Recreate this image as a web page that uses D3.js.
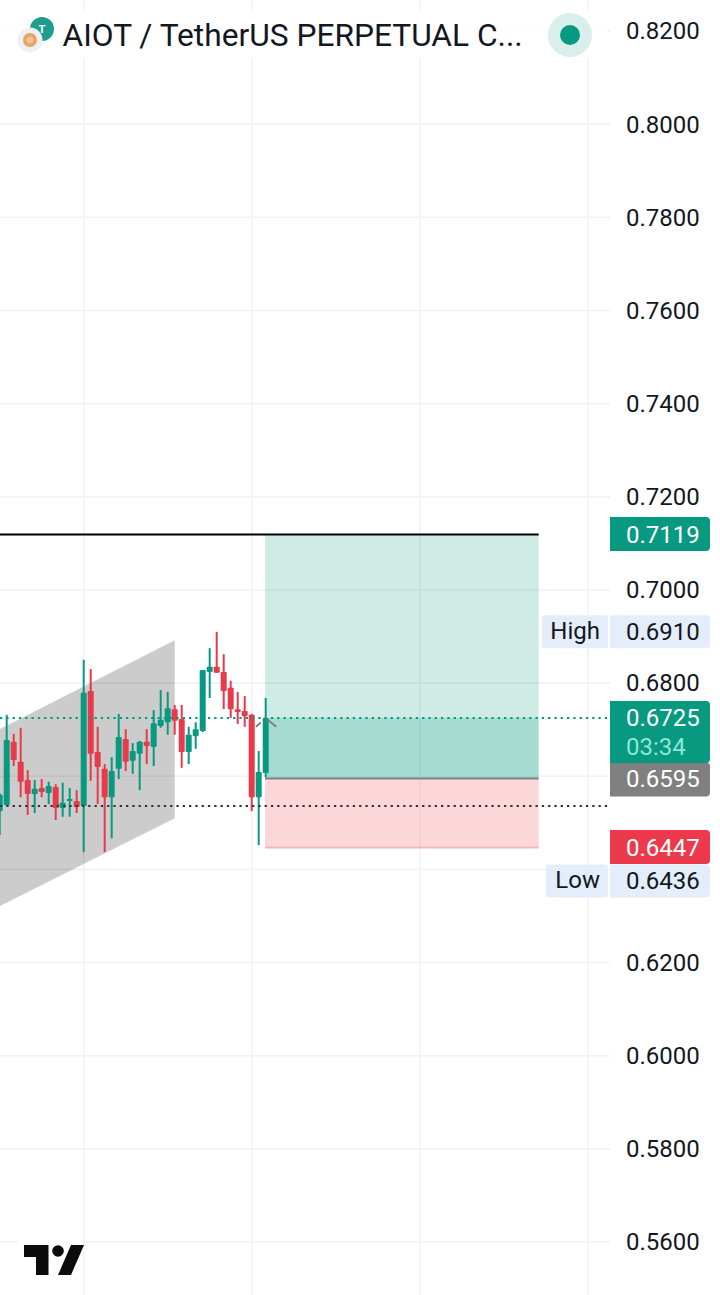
<!DOCTYPE html>
<html>
<head>
<meta charset="utf-8">
<title>AIOT / TetherUS PERPETUAL</title>
<script src="https://cdn.jsdelivr.net/npm/d3@7"></script>
<style>
  html, body { margin: 0; padding: 0; background: #fff; }
  svg { display: block; }
  text { font-family: Roboto, sans-serif; }
</style>
</head>
<body>
<script>
// Candles, left to right
var opens =  [0.6525,0.6538,0.6674,0.6631,0.6592,0.6562,0.6575,0.6564,0.6577,0.6532,0.6547,0.6547,0.6536,0.6783,0.6652,0.6616,0.6555,0.6616,0.6680,0.6633,0.6648,0.6674,0.6663,0.6708,0.6716,0.6744,0.6723,0.6652,0.6686,0.6697,0.6824,0.6835,0.6824,0.6790,0.6744,0.6740,0.6732,0.6555,0.6607];
var highs =  [0.6564,0.6732,0.6691,0.6704,0.6613,0.6592,0.6594,0.6588,0.6583,0.6586,0.6575,0.6570,0.6850,0.6830,0.6706,0.6626,0.6641,0.6734,0.6701,0.6671,0.6676,0.6701,0.6742,0.6785,0.6781,0.6753,0.6753,0.6706,0.6716,0.6828,0.6875,0.6910,0.6862,0.6805,0.6781,0.6772,0.6734,0.6654,0.6768];
var lows =   [0.6474,0.6536,0.6622,0.6555,0.6517,0.6521,0.6555,0.6540,0.6506,0.6513,0.6513,0.6521,0.6437,0.6590,0.6540,0.6437,0.6467,0.6594,0.6611,0.6605,0.6570,0.6626,0.6622,0.6704,0.6689,0.6689,0.6618,0.6626,0.6659,0.6695,0.6768,0.6822,0.6744,0.6725,0.6712,0.6706,0.6525,0.6452,0.6598];
var closes = [0.6560,0.6678,0.6635,0.6588,0.6562,0.6573,0.6566,0.6579,0.6532,0.6543,0.6551,0.6534,0.6779,0.6648,0.6620,0.6555,0.6611,0.6684,0.6631,0.6654,0.6674,0.6665,0.6714,0.6721,0.6746,0.6719,0.6652,0.6689,0.6701,0.6828,0.6835,0.6822,0.6783,0.6744,0.6738,0.6729,0.6555,0.6609,0.6725];

// Price axis and time grid
var priceTicks = [0.82,0.80,0.78,0.76,0.74,0.72,0.70,0.68,0.62,0.60,0.58,0.56];
var gridPrices = [0.82,0.80,0.78,0.76,0.74,0.72,0.70,0.68,0.66,0.64,0.62,0.60,0.58,0.56];
var gridBars = [12,36,60,84];

// Drawings: gray channel and long position
var channelBars =   [0,25,25,0];
var channelPrices = [0.6701,0.6892,0.6510,0.6321];
var positionBars = [38,77];
var targetPrice = 0.7119;
var entryPrice = 0.6595;
var stopPrice = 0.6447;
var lastPrice = 0.6725;
var prevClose = 0.6536;
var highPrice = 0.6910;
var lowPrice = 0.6436;
var arrowBars = [36.6,38,39.5];
var arrowPrices = [0.6706,0.6725,0.6706];

var GREEN = "#089981", RED = "#e63b4b";

var width = 720, height = 1295, axisLeft = 610;

var svg = d3.select("body").append("svg")
  .attr("width", width)
  .attr("height", height);

svg.append("rect").attr("width", width).attr("height", height).attr("fill", "#fff");

var x = d3.scaleLinear().domain([0,84]).range([-0.3,587.7]);
var y = d3.scaleLinear().domain([0.82,0.56]).range([31,1242]);

// Step 1: grid
svg.append("g").selectAll("line").data(gridPrices).join("line")
  .attr("x1",0).attr("x2",axisLeft)
  .attr("y1",function(d){ return y(d); }).attr("y2",function(d){ return y(d); })
  .attr("stroke","#f1f2f4").attr("stroke-width",1.6);

svg.append("g").selectAll("line").data(gridBars).join("line")
  .attr("x1",function(d){ return x(d); }).attr("x2",function(d){ return x(d); })
  .attr("y1",0).attr("y2",height)
  .attr("stroke","#f1f2f4").attr("stroke-width",1.6);

// Step 2: channel, sits under the candles
svg.append("polygon")
  .attr("points", channelBars.map(function(b,i){ return x(b)+","+y(channelPrices[i]); }).join(" "))
  .attr("fill","#000").attr("fill-opacity",0.2);

// Step 3: position tool
var pos = svg.append("g");
var boxX = x(positionBars[0]) - 0.7, boxW = x(positionBars[1]) - boxX;
pos.append("rect").attr("x",boxX).attr("width",boxW)
  .attr("y",y(targetPrice)).attr("height",y(entryPrice)-y(targetPrice))
  .attr("fill",GREEN).attr("fill-opacity",0.2);
pos.append("rect").attr("x",boxX).attr("width",boxW)
  .attr("y",y(lastPrice)).attr("height",y(entryPrice)-y(lastPrice))
  .attr("fill",GREEN).attr("fill-opacity",0.2);
pos.append("rect").attr("x",boxX).attr("width",boxW)
  .attr("y",y(entryPrice)).attr("height",y(stopPrice)-y(entryPrice))
  .attr("fill","#f23645").attr("fill-opacity",0.2);
pos.append("line").attr("x1",0).attr("x2",boxX+boxW)
  .attr("y1",y(targetPrice)).attr("y2",y(targetPrice))
  .attr("stroke","#000").attr("stroke-width",2);
pos.append("line").attr("x1",boxX).attr("x2",boxX+boxW)
  .attr("y1",y(entryPrice)).attr("y2",y(entryPrice))
  .attr("stroke","#808080").attr("stroke-width",2);
pos.append("line").attr("x1",boxX).attr("x2",boxX+boxW)
  .attr("y1",y(stopPrice)).attr("y2",y(stopPrice))
  .attr("stroke","#f2b8bd").attr("stroke-width",2);

// Step 4: candles
var candles = svg.append("g").selectAll("g").data(opens).join("g")
  .attr("fill",function(d,i){ return closes[i] >= opens[i] ? GREEN : RED; });

candles.append("rect")
  .attr("x",function(d,i){ return x(i)-1; })
  .attr("width",2)
  .attr("y",function(d,i){ return y(highs[i]); })
  .attr("height",function(d,i){ return y(lows[i])-y(highs[i]); });

candles.append("rect")
  .attr("x",function(d,i){ return x(i)-3; })
  .attr("width",6)
  .attr("y",function(d,i){ return y(Math.max(opens[i],closes[i])); })
  .attr("height",function(d,i){ return Math.abs(y(opens[i])-y(closes[i])); })
  .attr("rx",0.8);

// Step 5: chevron on the last candle
svg.append("path")
  .attr("d", d3.line().x(function(d){ return x(d); }).y(function(d,i){ return y(arrowPrices[i]); })(arrowBars))
  .attr("fill","none").attr("stroke","#808080").attr("stroke-width",2)
  .attr("stroke-dasharray","6.5 9 13");

// Step 6: last price and previous close dotted lines
svg.append("line").attr("x1",0).attr("x2",axisLeft)
  .attr("y1",y(lastPrice)).attr("y2",y(lastPrice))
  .attr("stroke",GREEN).attr("stroke-width",2).attr("stroke-dasharray","2.3 4");
svg.append("line").attr("x1",0).attr("x2",axisLeft)
  .attr("y1",y(prevClose)).attr("y2",y(prevClose))
  .attr("stroke","#333").attr("stroke-width",2).attr("stroke-dasharray","2.3 4");

// Step 7: price axis
var axis = svg.append("g")
  .attr("transform","translate("+(axisLeft+16)+",0)")
  .call(d3.axisRight(y).tickValues(priceTicks).tickSize(0).tickPadding(0).tickFormat(d3.format(".4f")));
axis.select(".domain").remove();
axis.selectAll("text").attr("font-size",24).attr("dy","0.33em").attr("fill","#131722").style("font-family","Roboto, sans-serif");

// Step 8: price labels on the axis
var fmt = d3.format(".4f");
function rightTag(yTop, h, fill){
  var l = axisLeft, r = axisLeft + 100, c = 4;
  svg.append("path")
    .attr("d","M"+l+","+yTop+"H"+(r-c)+"Q"+r+","+yTop+" "+r+","+(yTop+c)+"V"+(yTop+h-c)+"Q"+r+","+(yTop+h)+" "+(r-c)+","+(yTop+h)+"H"+l+"Z")
    .attr("fill",fill);
}
function tagText(str, yMid, fill){
  svg.append("text").attr("x",axisLeft+16).attr("y",yMid)
    .attr("dy","0.33em").attr("font-size",24).attr("fill",fill).text(str);
}

rightTag(y(targetPrice)-17.5,34,GREEN);
tagText(fmt(targetPrice),y(targetPrice)+0.5,"#fff");

// High sits on its price, Low is pushed below the stop tag
[[highPrice,"High",542,0],[lowPrice,"Low",546,28.5]].forEach(function(t){
  var mid = y(t[0]) + t[3];
  rightTag(mid-16.5,33,"#e3eefa");
  tagText(fmt(t[0]),mid,"#131722");
  svg.append("rect").attr("x",t[2]).attr("y",mid-16.5).attr("width",608-t[2]).attr("height",33)
    .attr("rx",3).attr("fill","#e3eefa");
  svg.append("text").attr("x",600).attr("y",mid-1).attr("dy","0.33em").attr("text-anchor","end")
    .attr("font-size",24).attr("fill","#131722").text(t[1]);
});

rightTag(y(entryPrice)-16,34,"#808080");
tagText(fmt(entryPrice),y(entryPrice)+1,"#fff");

rightTag(y(lastPrice)-17,62,GREEN);
tagText(fmt(lastPrice),y(lastPrice),"#fff");
tagText("03:34",y(lastPrice)+29,"#8ee6d4");

rightTag(y(stopPrice)-17.5,34,"#ec3a4c");
tagText(fmt(stopPrice),y(stopPrice)+0.5,"#fff");

// Step 9: header with symbol icons, title and status dot
svg.append("rect").attr("x",0).attr("y",10).attr("width",608).attr("height",48).attr("fill","#fff").attr("fill-opacity",0.85);
svg.append("circle").attr("cx",42).attr("cy",29).attr("r",12).attr("fill","#1f9e8f");
svg.append("text").attr("x",42).attr("y",29).attr("dy","0.36em").attr("text-anchor","middle")
  .attr("font-size",11).attr("font-weight",700).attr("fill","#fff").text("T");
svg.append("circle").attr("cx",30).attr("cy",40).attr("r",12.5).attr("fill","#eef0f3");
svg.append("circle").attr("cx",30).attr("cy",40).attr("r",7).attr("fill","#e5a463");
svg.append("circle").attr("cx",30).attr("cy",40).attr("r",3.5).attr("fill","#f4c48e");
svg.append("text").attr("x",62.5).attr("y",46).attr("font-size",31.7).attr("fill","#131722")
  .text("AIOT / TetherUS PERPETUAL C...");
svg.append("circle").attr("cx",570).attr("cy",35).attr("r",22).attr("fill","#d9efeb");
svg.append("circle").attr("cx",570).attr("cy",35).attr("r",10).attr("fill",GREEN);

// Step 10: TradingView mark
svg.append("rect").attr("x",18).attr("y",1237).attr("width",64).attr("height",44).attr("fill","#fff");
var logo = svg.append("g").attr("fill","#0b0b0b").attr("transform","translate(24,1245)");
logo.append("path").attr("d","M0,0H24.5V30H12V12H0Z");
logo.append("circle").attr("cx",34).attr("cy",6).attr("r",5.8);
logo.append("path").attr("d","M47,0H60L47,30H34Z");
</script>
</body>
</html>
